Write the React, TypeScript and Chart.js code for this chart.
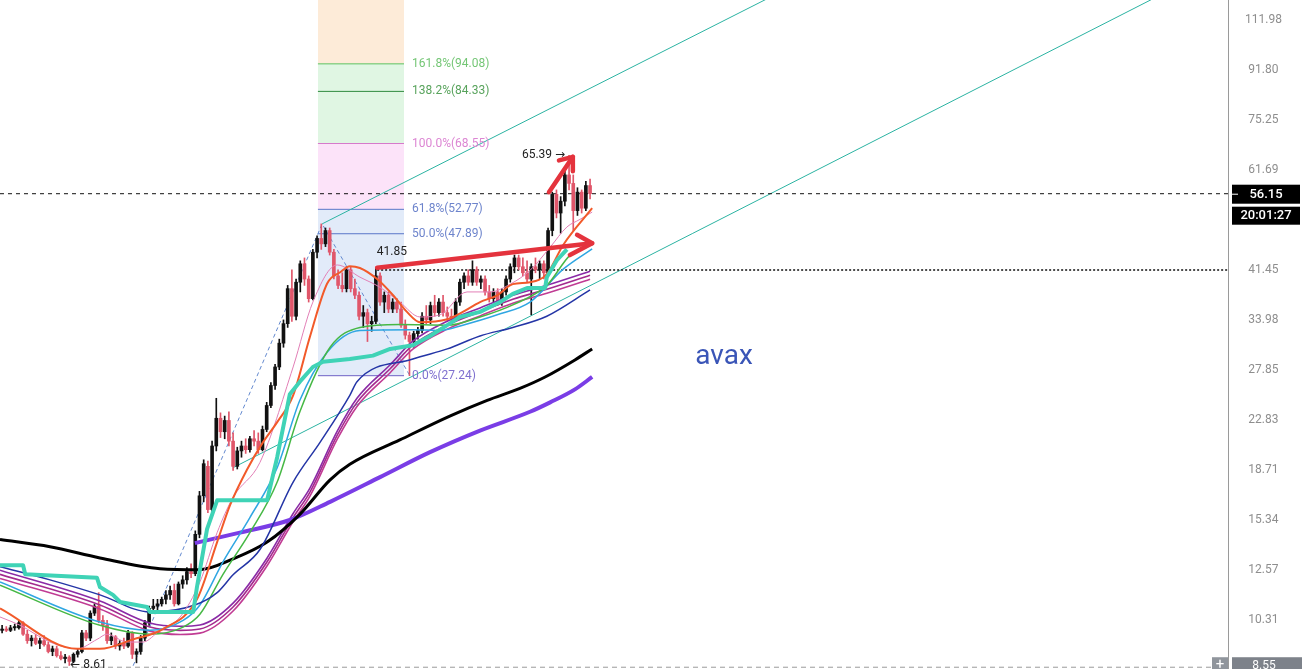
import React, { useEffect, useRef } from "react";
import { Chart, registerables } from "chart.js";
Chart.register(...registerables);

const FONT = 'Roboto, "Noto Sans", "DejaVu Sans", sans-serif';

// candles: [open, high, low, close], one per bar index
const candles: number[][] = [
  [9.9, 10.1, 9.8, 9.95], [9.95, 10.05, 9.85, 9.9], [9.9, 10.1, 9.85, 10.0], [10.0, 10.15, 9.9, 10.05],
  [10.0, 10.3, 9.95, 10.2], [10.2, 10.25, 9.7, 9.75], [9.75, 9.9, 9.4, 9.5], [9.5, 9.7, 9.3, 9.6],
  [9.6, 9.75, 9.35, 9.4], [9.4, 9.6, 9.2, 9.5], [9.5, 9.7, 9.3, 9.35], [9.35, 9.45, 9.05, 9.1],
  [9.1, 9.3, 8.95, 9.2], [9.2, 9.3, 8.9, 8.95], [8.95, 9.1, 8.8, 8.85], [8.85, 9.0, 8.7, 8.9],
  [8.9, 8.95, 8.61, 8.75], [8.75, 9.05, 8.7, 9.0], [9.0, 9.2, 8.9, 9.1], [9.1, 9.9, 9.05, 9.8],
  [9.8, 9.9, 9.5, 9.6], [9.6, 10.7, 9.5, 10.6], [10.6, 11.0, 10.5, 10.9], [10.9, 11.5, 10.2, 10.3],
  [10.3, 10.5, 9.9, 10.1], [10.1, 10.3, 9.4, 9.5], [9.5, 9.8, 9.35, 9.65], [9.65, 9.7, 9.2, 9.3],
  [9.3, 9.5, 9.15, 9.4], [9.4, 9.6, 9.2, 9.3], [9.3, 9.9, 9.25, 9.8], [9.8, 9.85, 8.85, 9.0],
  [9.0, 9.2, 8.7, 9.1], [9.1, 9.7, 9.0, 9.6], [9.6, 10.3, 9.5, 10.2], [10.2, 10.9, 10.1, 10.8],
  [10.8, 11.2, 10.6, 10.9], [10.9, 11.2, 10.7, 11.0], [11.0, 11.3, 10.9, 11.2], [11.2, 11.6, 11.0, 11.4],
  [11.4, 11.8, 11.2, 11.6], [11.6, 11.9, 10.9, 11.0], [11.0, 12.0, 10.95, 11.9], [11.9, 12.3, 11.7, 12.1],
  [12.1, 12.7, 11.9, 12.5], [12.5, 12.9, 12.2, 12.4], [12.4, 14.7, 12.3, 14.5], [14.5, 17.2, 14.3, 16.9],
  [16.9, 19.5, 16.5, 19.2], [19.0, 19.4, 15.8, 16.0], [16.0, 21.0, 15.9, 20.6], [20.6, 24.9, 20.2, 23.0],
  [23.0, 23.5, 21.3, 21.8], [21.8, 23.2, 21.2, 22.8], [22.8, 23.6, 20.6, 21.0], [21.0, 21.7, 18.7, 19.0],
  [19.0, 20.5, 18.8, 20.2], [20.2, 21.0, 19.7, 20.6], [20.6, 21.2, 20.0, 20.3], [20.3, 21.4, 20.1, 21.2],
  [21.2, 21.9, 20.6, 21.0], [21.0, 21.7, 20.0, 20.3], [20.3, 22.3, 20.2, 22.0], [22.0, 24.5, 21.8, 24.2],
  [24.2, 26.5, 24.0, 26.2], [26.2, 28.5, 25.8, 28.2], [28.2, 31.5, 27.9, 31.0], [31.0, 34.0, 30.5, 33.5],
  [33.5, 39.0, 33.0, 38.5], [38.5, 41.5, 33.8, 34.5], [34.5, 40.0, 34.0, 39.5], [39.5, 43.0, 38.0, 42.5],
  [42.5, 43.5, 39.0, 40.0], [40.0, 40.5, 36.5, 37.0], [37.0, 45.0, 36.8, 44.5], [44.5, 47.5, 43.5, 47.0],
  [47.0, 49.8, 45.0, 46.0], [46.0, 49.0, 45.5, 48.5], [48.5, 49.0, 44.0, 44.5], [44.5, 45.0, 40.0, 40.5],
  [40.5, 41.5, 38.5, 39.0], [39.0, 41.0, 38.0, 38.5], [38.5, 42.0, 38.0, 41.5], [41.5, 42.0, 38.0, 38.5],
  [38.5, 40.0, 37.0, 37.5], [37.5, 38.0, 34.0, 34.5], [34.5, 36.0, 33.0, 35.0], [35.0, 35.5, 31.2, 33.5],
  [33.5, 34.5, 32.5, 33.8], [33.8, 41.85, 33.5, 40.5], [40.5, 41.0, 36.0, 36.5], [36.5, 38.0, 35.0, 37.5],
  [37.5, 38.0, 35.0, 35.5], [35.5, 37.0, 35.0, 36.5], [36.5, 37.0, 35.0, 35.5], [35.5, 36.5, 33.0, 33.3],
  [33.3, 34.0, 31.5, 32.0], [32.0, 32.4, 27.24, 31.2], [31.2, 32.5, 30.5, 32.2], [32.2, 33.0, 31.5, 32.6],
  [32.6, 35.0, 32.3, 34.5], [34.5, 36.0, 33.5, 34.0], [34.0, 36.5, 33.5, 36.0], [36.0, 37.5, 34.5, 35.0],
  [35.0, 37.0, 34.5, 36.5], [36.5, 37.5, 34.5, 35.0], [35.0, 35.8, 33.8, 34.5], [34.5, 35.5, 33.5, 34.0],
  [34.0, 37.0, 33.8, 36.5], [36.5, 40.0, 36.0, 39.5], [39.5, 41.0, 38.5, 40.5], [40.5, 41.5, 39.0, 39.5],
  [39.5, 43.0, 39.0, 41.5], [41.5, 42.0, 39.0, 39.5], [39.5, 40.5, 38.5, 40.0], [40.0, 40.5, 37.5, 38.0],
  [38.0, 39.0, 36.5, 37.0], [37.0, 38.5, 36.5, 38.0], [38.0, 38.5, 36.0, 36.5], [36.5, 38.5, 36.0, 38.0],
  [38.0, 40.5, 37.5, 40.0], [40.0, 42.5, 39.5, 42.0], [42.0, 44.0, 41.0, 43.5], [43.5, 44.0, 41.5, 42.0],
  [42.0, 43.5, 40.5, 41.0], [41.0, 43.0, 39.5, 40.0], [40.0, 42.5, 34.7, 42.0], [42.0, 43.5, 41.0, 41.5],
  [41.5, 43.0, 40.0, 42.5], [42.5, 43.0, 40.0, 41.0], [41.0, 49.0, 40.8, 48.5], [48.5, 56.5, 47.5, 56.0],
  [56.0, 57.0, 51.0, 52.0], [52.0, 55.5, 48.0, 54.5], [54.5, 62.0, 53.5, 60.5], [60.5, 65.39, 57.0, 58.5],
  [58.5, 60.5, 48.5, 52.5], [52.5, 57.5, 51.5, 56.5], [56.5, 57.0, 52.0, 53.0], [53.0, 59.0, 52.5, 58.0],
  [58.0, 59.5, 55.0, 56.15],
];

// price axis
const yTickValues = [111.98, 91.8, 75.25, 61.69, 41.45, 33.98, 27.85, 22.83, 18.71, 15.34, 12.57, 10.31];
const yMin = 8.49;
const yMax = 121.26;
const xMin = -0.5;
const xMax = 291.9;

// moving averages: [bar index, value]
const maBlack = [[-0.5, 14.2], [11.4, 13.8], [23.3, 13.2], [37.6, 12.65], [47.1, 12.6], [55, 13.15], [63.1, 14.06], [70.9, 15.7], [78.1, 18.0], [82.8, 19.15], [94.7, 21.1], [106.6, 23.2], [115.5, 24.7], [123.3, 25.9], [129.3, 27.1], [136.4, 29.0], [140.5, 30.3]];
const maPurple = [[45.9, 14.0], [56.6, 14.6], [68.5, 15.35], [78.1, 16.5], [90, 18.2], [101.9, 20.1], [113.8, 21.9], [125.7, 23.6], [130.5, 24.5], [136.4, 25.8], [140.5, 27.1]];
const maNavy = [[-0.5, 12.75], [11.4, 12.1], [23.3, 11.4], [35.2, 10.65], [45.9, 10.95], [51.2, 11.5], [55, 12.35], [61.4, 13.65], [69.3, 17.85], [75.7, 20.9], [82.8, 25.2], [84.5, 26.6], [97.8, 29.1], [106, 30.3], [113.8, 31.9], [121.6, 33.0], [129.7, 34.5], [140, 38.3]];
const maMagentaA = [[-0.5, 12.57], [23.3, 11.12], [35.2, 10.19], [42.4, 10.06], [47.1, 10.11], [55, 11.03], [63.1, 13.2], [69.3, 15.75], [73.3, 17.43], [79.8, 21.85], [84.5, 24.9], [92.4, 28.45], [97.8, 31.24], [106, 33.83], [113.8, 35.66], [121.6, 37.49], [129.7, 39.01], [140, 41.25]];
const maMagentaB = [[-0.5, 12.37], [23.3, 10.95], [35.2, 10.03], [42.4, 9.9], [47.1, 9.95], [55, 10.86], [63.1, 13.0], [69.3, 15.5], [73.3, 17.15], [79.8, 21.5], [84.5, 24.5], [92.4, 28.0], [97.8, 30.75], [106, 33.3], [113.8, 35.1], [121.6, 36.9], [129.7, 38.4], [140, 40.6]];
const maMagentaC = [[-0.5, 12.17], [23.3, 10.78], [35.2, 9.87], [42.4, 9.74], [47.1, 9.79], [55, 10.69], [63.1, 12.8], [69.3, 15.26], [73.3, 16.88], [79.8, 21.16], [84.5, 24.11], [92.4, 27.56], [97.8, 30.27], [106, 32.78], [113.8, 34.55], [121.6, 36.32], [129.7, 37.8], [140, 39.96]];
const maGreen = [[-0.5, 11.85], [23.3, 10.1], [35.2, 9.75], [43.1, 10.03], [47.1, 10.55], [52.6, 12.37], [59, 14.6], [65.5, 17.85], [70.9, 23.6], [78.1, 30.5], [85.2, 33.0], [94.7, 33.4], [106, 33.3], [113.8, 34.4], [121.6, 36.1], [129.7, 39.0], [135.2, 43.95], [140, 45.8]];
const maLightBlue = [[-0.5, 12.0], [23.3, 10.23], [35.2, 9.9], [43.1, 10.3], [47.1, 10.95], [52.6, 13.0], [59, 15.5], [65.5, 18.9], [70.9, 24.7], [77.4, 29.9], [85.2, 32.6], [97.8, 32.7], [104.3, 32.6], [109.7, 33.3], [117.9, 34.7], [125.7, 36.5], [133.6, 41.6], [140.5, 45.1]];
const maOrange = [[-0.5, 10.8], [17.9, 9.2], [23.3, 9.2], [31.2, 9.55], [38.3, 9.95], [46.4, 11.2], [51.2, 14.06], [54.3, 16.3], [58.3, 18.75], [62.1, 20.9], [65.5, 22.65], [69.3, 25.2], [73.3, 31.8], [77.4, 39.3], [80.5, 41.1], [82.8, 42.1], [85.2, 41.8], [89.3, 40.0], [93.1, 37.5], [96.4, 35.1], [99.5, 33.7], [106, 34.1], [109.7, 35.1], [113.8, 36.5], [117.9, 37.5], [121.6, 39.2], [125.7, 39.5], [129.7, 40.8], [133.6, 45.8], [140.5, 53.0]];
const maPink = [[-0.5, 10.44], [4.3, 10.1], [11.4, 9.45], [17.9, 9.2], [22.6, 9.55], [25, 9.75], [29.7, 9.45], [33.5, 9.45], [37.6, 9.9], [42.4, 10.44], [47.1, 12.0], [51.2, 14.6], [55, 16.8], [61.4, 19.3], [69.3, 28.2], [74, 36.5], [79.8, 42.3], [85.2, 40.3], [90, 38.7], [94.7, 36.5], [99.5, 34.4], [104.3, 34.7], [110.7, 38.0], [116.2, 38.0], [121, 39.2], [125.7, 41.4], [130.5, 45.4], [134.5, 49.2], [137.6, 50.7], [140.5, 52.2]];
const stepTeal = [[-0.5, 12.82], [5, 12.82], [5.5, 12.37], [22.6, 12.2], [23.3, 11.76], [26.4, 11.4], [28.1, 11.08], [34.5, 10.86], [35.2, 10.65], [45.5, 10.65], [46.4, 11.76], [48.8, 14.8], [51.2, 16.6], [63.1, 16.6], [65.5, 19.7], [68.5, 25.3], [70.9, 26.6], [74, 28.2], [76.4, 28.8], [82.8, 29.1], [88.3, 29.5], [92.4, 30.3], [97.8, 30.75], [101.9, 31.9], [106, 33.3], [109, 34.4], [113.8, 35.1], [118.6, 36.5], [121.6, 37.7], [125, 38.6], [129.3, 38.6], [129.7, 40.3], [132.1, 43.1], [134.5, 45.0]];

// drawings
const channelUpper = [[76.2, 49.8], [190, 130.2]];
const channelLower = [[55, 18.9], [285.2, 134.0]];
const fibZigzag = [[31.2, 8.6], [76.2, 49.8], [97.1, 27.24]];
const arrowFlatShaft = [[89.3, 41.85], [140.5, 46.1]];
const arrowFlatHead = [[136.9, 47.7], [140.5, 46.1], [135.2, 44.0]];
const arrowUpShaft = [[130.2, 56.5], [135.9, 65.0]];
const arrowUpHead = [[132.6, 64.1], [135.9, 65.0], [135.9, 61.4]];

// Fibonacci tool
const fibStart = 75.2;
const fibEnd = 95.7;
const fibValues = [94.08, 84.33, 68.55, 52.77, 47.89, 27.24];
const fibLabels = ["161.8%(94.08)", "138.2%(84.33)", "100.0%(68.55)", "61.8%(52.77)", "50.0%(47.89)", "0.0%(27.24)"];
const fibZoneTops = [130, 94.08, 68.55, 52.77];
const fibZoneBottoms = [94.08, 68.55, 52.77, 27.24];

// horizontal levels
const lastPrice = 56.15;
const countdown = "20:01:27";
const dottedLevel = 41.45;
const dottedFrom = 89.3;
const crossPrice = 8.55;

// notes
const noteTexts = ["41.85", "65.39 →", "← 8.61", "avax"];
const noteX = [89, 135, 16, 171.9];
const noteY = [41.85, 65.39, 8.61, 29.3];

// styles
const fibLineColors = ["#5cc15e", "#2f8a3f", "#d67acb", "#5a76c8", "#5a76c8", "#6e62c6"];
const fibTextColors = ["#74c675", "#58a35c", "#dc86d3", "#6d84cc", "#6d84cc", "#7f70cf"];
const fibZoneColors = ["rgba(253,234,214,0.95)", "rgba(222,245,226,0.95)", "rgba(252,226,249,0.95)", "rgba(224,234,249,0.95)"];
const noteStyles = [
  { dx: 16, dy: -16, align: "center", font: `12px ${FONT}`, color: "#222" },
  { dx: -4, dy: 0, align: "right", font: `12px ${FONT}`, color: "#222" },
  { dx: 1, dy: 0, align: "left", font: `12px ${FONT}`, color: "#222" },
  { dx: 0, dy: 0, align: "center", font: `28px ${FONT}`, color: "#3a55b7" },
];

const pts = (arr: number[][]) => arr.map(([x, y]) => ({ x, y }));

export default function App() {
  const ref = useRef<HTMLCanvasElement>(null);

  useEffect(() => {
    document.body.style.margin = "0";
    const canvas = ref.current!;
    const datasets: any[] = [];

    const curve = (data: number[][], color: string, width: number, order: number, extra: any = {}) => ({
      type: "line",
      data: pts(data),
      borderColor: color,
      borderWidth: width,
      pointRadius: 0,
      fill: false,
      order,
      cubicInterpolationMode: "monotone",
      ...extra,
    });
    const straight = (data: number[][], color: string, width: number, order: number, extra: any = {}) => ({
      type: "line",
      data: pts(data),
      borderColor: color,
      borderWidth: width,
      pointRadius: 0,
      fill: false,
      order,
      tension: 0,
      cubicInterpolationMode: "default",
      ...extra,
    });

    // fib zones
    fibZoneTops.forEach((t, k) => {
      datasets.push({
        type: "line",
        data: [{ x: fibStart, y: t }, { x: fibEnd, y: t }],
        borderWidth: 0,
        borderColor: "rgba(0,0,0,0)",
        backgroundColor: fibZoneColors[k],
        fill: { value: fibZoneBottoms[k] },
        pointRadius: 0,
        tension: 0,
        order: 30,
      });
    });
    // fib lines
    fibValues.forEach((v, k) => {
      datasets.push(straight([[fibStart, v], [fibEnd, v]], fibLineColors[k], 1, 20));
    });

    // channels and zigzag
    datasets.push(straight(channelUpper, "#2bb3a2", 1, 15));
    datasets.push(straight(channelLower, "#2bb3a2", 1, 15));
    datasets.push(straight(fibZigzag, "#6389cf", 1, 15, { borderDash: [4, 3] }));

    // horizontal levels
    datasets.push(straight([[xMin, lastPrice], [xMax, lastPrice]], "#111", 1, 14, { borderDash: [4, 4] }));
    datasets.push(straight([[dottedFrom, dottedLevel], [xMax, dottedLevel]], "#111", 1.6, 14, { borderDash: [2, 2] }));
    datasets.push(straight([[xMin, crossPrice], [xMax, crossPrice]], "#9a9a9a", 1, 14, { borderDash: [5, 4] }));

    // candles
    const candleColors = candles.map((c) => (c[3] >= c[0] ? "#111111" : "#e0566a"));
    datasets.push({
      type: "bar",
      data: candles.map((c, i) => ({ x: i, y: [c[2], c[1]] })),
      backgroundColor: candleColors,
      borderWidth: 0,
      barThickness: 1,
      grouped: false,
      order: 11,
    });
    datasets.push({
      type: "bar",
      data: candles.map((c, i) => ({ x: i, y: [Math.min(c[0], c[3]), Math.max(c[0], c[3])] })),
      backgroundColor: candleColors,
      borderWidth: 0,
      barThickness: 3,
      minBarLength: 1,
      grouped: false,
      order: 10,
    });

    // moving averages
    datasets.push(curve(maBlack, "#000000", 3, 6));
    datasets.push(curve(maPurple, "#7a3de6", 4, 6));
    datasets.push(curve(maMagentaC, "#c03b93", 1.6, 6));
    datasets.push(curve(maMagentaB, "#a32a8e", 1.6, 6));
    datasets.push(curve(maMagentaA, "#8a2aa6", 1.6, 6));
    datasets.push(curve(maNavy, "#2435a6", 1.5, 5));
    datasets.push(curve(maGreen, "#46b845", 1.5, 5));
    datasets.push(curve(maLightBlue, "#2fa6e2", 1.5, 5));
    datasets.push(curve(maOrange, "#f25a2a", 2, 4));
    datasets.push(curve(maPink, "#e27fb6", 1, 4));
    datasets.push(straight(stepTeal, "#3fd3b6", 4, 3, { borderJoinStyle: "round" }));

    // arrows
    const arrowOpts = { borderCapStyle: "round", borderJoinStyle: "round" };
    datasets.push(straight(arrowFlatShaft, "#e4333d", 4.5, 1, arrowOpts));
    datasets.push(straight(arrowFlatHead, "#e4333d", 4.5, 1, arrowOpts));
    datasets.push(straight(arrowUpShaft, "#e4333d", 4.5, 1, arrowOpts));
    datasets.push(straight(arrowUpHead, "#e4333d", 4.5, 1, arrowOpts));

    const overlay = {
      id: "overlay",
      afterDraw(chart: any) {
        const { ctx, chartArea } = chart;
        const xs = chart.scales.x;
        const ys = chart.scales.y;
        ctx.save();
        // fib labels
        ctx.font = `12px ${FONT}`;
        ctx.textBaseline = "middle";
        ctx.textAlign = "left";
        fibValues.forEach((v, k) => {
          ctx.fillStyle = fibTextColors[k];
          ctx.fillText(fibLabels[k], xs.getPixelForValue(fibEnd) + 8, ys.getPixelForValue(v));
        });
        // notes
        noteTexts.forEach((t, k) => {
          const s = noteStyles[k];
          ctx.font = s.font;
          ctx.fillStyle = s.color;
          ctx.textAlign = s.align;
          ctx.fillText(t, xs.getPixelForValue(noteX[k]) + s.dx, ys.getPixelForValue(noteY[k]) + s.dy);
        });
        // last price box
        const bx = chartArea.right + 4;
        const py = ys.getPixelForValue(lastPrice);
        ctx.fillStyle = "#000";
        ctx.fillRect(bx, py - 9, 68, 19);
        ctx.fillRect(bx, py + 13, 68, 18);
        ctx.fillStyle = "#fff";
        ctx.fillRect(bx, py, 6, 1);
        ctx.textAlign = "center";
        ctx.font = `500 13px ${FONT}`;
        ctx.fillText(lastPrice.toFixed(2), bx + 34, py + 1);
        ctx.fillText(countdown, bx + 34, py + 22.5);
        // crosshair boxes
        const cy = ys.getPixelForValue(crossPrice);
        ctx.fillStyle = "#7d828a";
        ctx.fillRect(bx, cy - 10, 74, 20);
        ctx.fillStyle = "#90959c";
        ctx.fillRect(chartArea.right - 16, cy - 10, 16, 20);
        ctx.fillStyle = "#fff";
        ctx.font = `12px ${FONT}`;
        ctx.fillText(crossPrice.toFixed(2), bx + 32, cy - 1);
        ctx.font = `15px ${FONT}`;
        ctx.fillText("+", chartArea.right - 8, cy - 2);
        ctx.restore();
      },
    };

    const chart = new Chart(canvas, {
      type: "line",
      data: { datasets },
      options: {
        responsive: false,
        animation: false,
        events: [],
        layout: { padding: 0 },
        plugins: { legend: { display: false }, tooltip: { enabled: false } },
        scales: {
          x: { type: "linear", min: xMin, max: xMax, display: false, bounds: "data", offset: false },
          y: {
            type: "logarithmic",
            position: "right",
            min: yMin,
            max: yMax,
            bounds: "data",
            afterBuildTicks: (s: any) => {
              s.ticks = yTickValues.map((v) => ({ value: v }));
            },
            afterFit: (s: any) => {
              s.width = 74;
              s.paddingTop = 0;
              s.paddingBottom = 0;
            },
            grid: { display: false, drawTicks: false },
            border: { display: true, color: "#9a9a9a", dash: [4, 3], width: 1 },
            ticks: {
              autoSkip: false,
              padding: 17,
              crossAlign: "center",
              color: "#8e8e8e",
              font: { family: FONT, size: 12 },
              callback: (v: any) => Number(v).toFixed(2),
            },
          },
        },
      } as any,
      plugins: [overlay],
    } as any);

    return () => chart.destroy();
  }, []);

  return (
    <div style={{ width: 1302, height: 669, background: "#fff" }}>
      <canvas ref={ref} width={1302} height={669} style={{ display: "block" }} />
    </div>
  );
}
